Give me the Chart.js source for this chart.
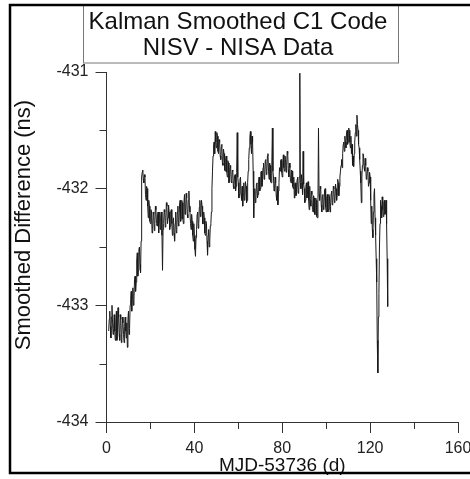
<!DOCTYPE html>
<html lang="en">
<head>
    <title>Kalman Smoothed C1 Code</title>
    <script src="https://cdn.jsdelivr.net/npm/chart.js"></script>
    <style>
        body { margin: 0; background: #fff; }
    </style>
</head>
<body>
    <canvas id="kalmanChart" width="470" height="479"></canvas>

    <script>
        // MJD-53736, days
        var days = [
            1, 1.25, 1.5, 1.75, 2, 2.25, 2.5, 2.75, 3, 3.25, 3.5, 3.75, 4, 4.25, 4.5, 4.75, 5, 5.25, 5.5, 5.75,
            6, 6.25, 6.5, 6.75, 7, 7.25, 7.5, 7.75, 8, 8.25, 8.5, 8.75, 9, 9.25, 9.5, 9.75, 10, 10.25, 10.5, 10.75,
            11, 11.25, 11.5, 11.75, 12, 12.25, 12.5, 12.75, 13, 13.25, 13.5, 13.75, 14, 14.25, 14.5, 14.75, 15, 15.25, 15.5, 15.75,
            16, 16.25, 16.5, 16.75, 17, 17.25, 17.5, 17.75, 18, 18.25, 18.5, 18.75, 19, 19.25, 19.5, 19.75, 20, 20.25, 20.5, 20.75,
            21, 21.25, 21.5, 21.75, 22, 22.25, 22.5, 22.75, 23, 23.25, 23.5, 23.75, 24, 24.25, 24.5, 24.75, 25, 25.25, 25.5, 25.75,
            26, 26.25, 26.5, 26.75, 27, 27.25, 27.5, 27.75, 28, 28.25, 28.5, 28.75, 29, 29.25, 29.5, 29.75, 30, 30.25, 30.5, 30.75,
            31, 31.25, 31.5, 31.75, 32, 32.25, 32.5, 32.75, 33, 33.25, 33.5, 33.75, 34, 34.25, 34.5, 34.75, 35, 35.25, 35.5, 35.75,
            36, 36.25, 36.5, 36.75, 37, 37.25, 37.5, 37.75, 38, 38.25, 38.5, 38.75, 39, 39.25, 39.5, 39.75, 40, 40.25, 40.5, 40.75,
            41, 41.25, 41.5, 41.75, 42, 42.25, 42.5, 42.75, 43, 43.25, 43.5, 43.75, 44, 44.25, 44.5, 44.75, 45, 45.25, 45.5, 45.75,
            46, 46.25, 46.5, 46.75, 47, 47.25, 47.5, 47.75, 48, 48.25, 48.5, 48.75, 49, 49.25, 49.5, 49.75, 50, 50.25, 50.5, 50.75,
            51, 51.25, 51.5, 51.75, 52, 52.25, 52.5, 52.75, 53, 53.25, 53.5, 53.75, 54, 54.25, 54.5, 54.75, 55, 55.25, 55.5, 55.75,
            56, 56.25, 56.5, 56.75, 57, 57.25, 57.5, 57.75, 58, 58.25, 58.5, 58.75, 59, 59.25, 59.5, 59.75, 60, 60.25, 60.5, 60.75,
            61, 61.25, 61.5, 61.75, 62, 62.25, 62.5, 62.75, 63, 63.25, 63.5, 63.75, 64, 64.25, 64.5, 64.75, 65, 65.25, 65.5, 65.75,
            66, 66.25, 66.5, 66.75, 67, 67.25, 67.5, 67.75, 68, 68.25, 68.5, 68.75, 69, 69.25, 69.5, 69.75, 70, 70.25, 70.5, 70.75,
            71, 71.25, 71.5, 71.75, 72, 72.25, 72.5, 72.75, 73, 73.25, 73.5, 73.75, 74, 74.25, 74.5, 74.75, 75, 75.25, 75.5, 75.75,
            76, 76.25, 76.5, 76.75, 77, 77.25, 77.5, 77.75, 78, 78.25, 78.5, 78.75, 79, 79.25, 79.5, 79.75, 80, 80.25, 80.5, 80.75,
            81, 81.25, 81.5, 81.75, 82, 82.25, 82.5, 82.75, 83, 83.25, 83.5, 83.75, 84, 84.25, 84.5, 84.75, 85, 85.25, 85.5, 85.75,
            86, 86.25, 86.5, 86.75, 87, 87.25, 87.5, 87.75, 88, 88.25, 88.5, 88.75, 89, 89.25, 89.5, 89.75, 90, 90.25, 90.5, 90.75,
            91, 91.25, 91.5, 91.75, 92, 92.25, 92.5, 92.75, 93, 93.25, 93.5, 93.75, 94, 94.25, 94.5, 94.75, 95, 95.25, 95.5, 95.75,
            96, 96.25, 96.5, 96.75, 97, 97.25, 97.5, 97.75, 98, 98.25, 98.5, 98.75, 99, 99.25, 99.5, 99.75, 100, 100.25, 100.5, 100.75,
            101, 101.25, 101.5, 101.75, 102, 102.25, 102.5, 102.75, 103, 103.25, 103.5, 103.75, 104, 104.25, 104.5, 104.75, 105, 105.25, 105.5, 105.75,
            106, 106.25, 106.5, 106.75, 107, 107.25, 107.5, 107.75, 108, 108.25, 108.5, 108.75, 109, 109.25, 109.5, 109.75, 110, 110.25, 110.5, 110.75,
            111, 111.25, 111.5, 111.75, 112, 112.25, 112.5, 112.75, 113, 113.25, 113.5, 113.75, 114, 114.25, 114.5, 114.75, 115, 115.25, 115.5, 115.75,
            116, 116.25, 116.5, 116.75, 117, 117.25, 117.5, 117.75, 118, 118.25, 118.5, 118.75, 119, 119.25, 119.5, 119.75, 120, 120.25, 120.5, 120.75,
            121, 121.25, 121.5, 121.75, 122, 122.25, 122.5, 122.75, 123, 123.25, 123.5, 123.75, 124, 124.25, 124.5, 124.75, 125, 125.25, 125.5, 125.75,
            126, 126.25, 126.5, 126.75, 127, 127.25, 127.5, 127.75, 128
        ];

        // smoothed NISV - NISA difference, ns
        var smoothedDiff = [
            -433.22, -433.12, -433.05, -433.18, -433.28, -433.1, -433.0, -433.15, -433.25, -433.2, -433.08, -433.22, -433.3, -433.15, -433.05, -433.3, -433.22, -433.02, -433.1, -433.25,
            -433.3, -433.08, -433.12, -433.32, -433.27, -433.1, -433.15, -433.25, -433.32, -433.18, -433.1, -433.22, -433.28, -433.15, -433.36, -433.12, -433.05, -433.25, -433.2, -433.0,
            -432.95, -432.88, -433.05, -432.92, -432.85, -433.0, -432.95, -432.78, -432.75, -432.88, -432.8, -432.62, -432.55, -432.75, -432.7, -432.52, -432.5, -432.65, -432.72, -432.45,
            -431.9, -431.86, -431.84, -431.92, -431.95, -431.88, -431.9, -432.05, -432.1, -431.98, -432.0, -432.15, -432.25, -432.1, -432.15, -432.28, -432.3, -432.18, -432.2, -432.38,
            -432.35, -432.2, -432.22, -432.36, -432.3, -432.15, -432.18, -432.3, -432.32, -432.22, -432.2, -432.38, -432.28, -432.2, -432.35, -432.25, -432.2, -432.4, -432.7, -432.35,
            -432.3, -432.18, -432.2, -432.33, -432.28, -432.12, -432.15, -432.3, -432.25, -432.14, -432.2, -432.35, -432.32, -432.2, -432.18, -432.3, -432.4, -432.28, -432.25, -432.38,
            -432.45, -432.3, -432.2, -432.38, -432.35, -432.2, -432.15, -432.32, -432.3, -432.14, -432.1, -432.28, -432.25, -432.1, -432.12, -432.26, -432.3, -432.12, -432.05, -432.22,
            -432.2, -432.04, -432.08, -432.22, -432.25, -432.1, -432.02, -432.15, -432.2, -432.3, -432.35, -432.22, -432.28, -432.4, -432.45, -432.3, -432.4, -432.52, -432.58, -432.42,
            -432.35, -432.22, -432.2, -432.34, -432.3, -432.16, -432.1, -432.24, -432.2, -432.1, -432.15, -432.3, -432.3, -432.2, -432.25, -432.38, -432.4, -432.28, -432.3, -432.45,
            -432.57, -432.4, -432.35, -432.5, -432.45, -432.32, -432.3, -432.2, -432.0, -431.85, -431.72, -431.62, -431.6, -431.7, -431.51, -431.6, -431.65, -431.52, -431.55, -431.68,
            -431.7, -431.58, -431.6, -431.72, -431.75, -431.64, -431.62, -431.78, -431.8, -431.66, -431.7, -431.84, -431.85, -431.74, -431.72, -431.86, -431.9, -431.76, -431.78, -431.95,
            -431.92, -431.82, -431.8, -431.94, -431.95, -431.84, -431.85, -431.98, -432.0, -431.9, -431.88, -432.02, -431.98, -431.86, -431.52, -431.9, -431.95, -432.08, -432.05, -431.92,
            -431.9, -432.05, -432.1, -431.98, -432.15, -432.05, -431.95, -432.1, -432.08, -431.94, -431.98, -432.12, -432.1, -431.95, -431.85, -431.75, -431.65, -431.56, -431.51, -431.62,
            -431.7, -431.55, -431.6, -431.85, -432.25, -432.05, -432.0, -432.12, -432.1, -431.96, -431.95, -432.08, -432.05, -431.92, -431.9, -432.02, -432.0, -431.86, -431.85, -431.98,
            -431.95, -431.82, -431.78, -431.92, -431.9, -431.76, -431.75, -431.88, -431.85, -431.72, -431.7, -431.85, -431.92, -431.78, -431.8, -431.94, -431.95, -431.8, -431.48, -431.85,
            -431.9, -432.02, -432.0, -431.9, -431.95, -432.06, -432.1, -431.98, -432.14, -432.02, -431.95, -431.82, -431.85, -431.76, -431.75, -431.86, -431.9, -431.78, -431.71, -431.82,
            -431.85, -431.72, -431.75, -431.86, -431.8, -431.68, -431.7, -431.84, -431.9, -431.78, -431.82, -431.94, -431.95, -431.84, -431.85, -431.98, -432.0, -431.9, -432.08, -431.96,
            -431.95, -432.06, -432.05, -431.92, -431.9, -432.04, -432.02, -431.9, -431.01, -431.95, -432.0, -431.88, -431.95, -432.05, -431.68, -431.96, -432.0, -432.12, -432.1, -431.98,
            -431.95, -432.08, -432.05, -431.94, -432.1, -432.18, -431.98, -432.1, -432.15, -432.02, -432.05, -432.18, -432.2, -432.06, -432.08, -432.22, -432.22, -432.08, -432.1, -432.24,
            -432.25, -432.12, -431.48, -432.05, -432.1, -431.98, -432.0, -432.14, -432.2, -432.06, -432.05, -432.18, -432.15, -432.02, -432.0, -432.16, -432.2, -432.08, -432.05, -432.2,
            -432.18, -432.05, -432.08, -432.2, -432.15, -432.04, -432.02, -432.14, -432.12, -431.98, -432.0, -432.12, -432.1, -431.96, -432.0, -432.1, -432.05, -431.92, -431.95, -432.06,
            -431.98, -431.9, -431.85, -431.8, -431.75, -431.82, -431.7, -431.62, -431.6, -431.68, -431.55, -431.6, -431.65, -431.52, -431.5, -431.62, -431.6, -431.48, -431.5, -431.6,
            -431.65, -431.55, -431.7, -431.62, -431.8, -431.72, -431.81, -431.7, -431.6, -431.52, -431.45, -431.55, -431.37, -431.45, -431.5, -431.62, -431.65, -431.75, -431.85, -431.95,
            -432.12, -431.9, -431.8, -431.7, -431.72, -431.82, -431.85, -431.74, -431.8, -431.92, -431.9, -431.82, -431.85, -431.98, -431.95, -431.86, -431.9, -432.1, -432.3, -432.15,
            -432.35, -432.42, -432.2, -432.05, -432.0, -432.25, -432.4, -432.6, -432.8, -433.3, -433.58, -433.1, -432.9, -432.5, -432.3, -432.1, -432.15, -432.25, -432.07, -432.18,
            -432.24, -432.12, -432.1, -432.22, -432.2, -432.1, -432.3, -432.6, -433.01
        ];

        var xMinorTicks = [20, 60, 100, 140];
        var yMinorTicks = [-431.5, -432.5, -433.5];
        var yTitle = 'Smoothed Difference (ns)';

        var points = [];
        for (var i = 0; i < days.length; i++) {
            points.push({ x: days[i], y: smoothedDiff[i] });
        }

        Chart.defaults.font.family = "'Liberation Sans', Arial, sans-serif";
        Chart.defaults.color = '#222';

        // minor ticks, y title, title box and the outer frame
        var framePlugin = {
            id: 'framePlugin',
            afterDraw: function(chart) {
                var ctx = chart.ctx;
                var area = chart.chartArea;
                var sx = chart.scales.x;
                var sy = chart.scales.y;
                ctx.save();
                ctx.strokeStyle = '#333';
                ctx.lineWidth = 1;
                ctx.beginPath();
                xMinorTicks.forEach(function(v) {
                    var px = Math.round(sx.getPixelForValue(v)) + 0.5;
                    ctx.moveTo(px, area.bottom);
                    ctx.lineTo(px, area.bottom + 7);
                });
                yMinorTicks.forEach(function(v) {
                    var py = Math.round(sy.getPixelForValue(v)) + 0.5;
                    ctx.moveTo(area.left, py);
                    ctx.lineTo(area.left - 7, py);
                });
                ctx.stroke();

                // y axis title sits a bit above the axis middle in the original
                ctx.translate(24, 225);
                ctx.rotate(-Math.PI / 2);
                ctx.fillStyle = '#111';
                ctx.font = "22px 'Liberation Sans', Arial, sans-serif";
                ctx.textAlign = 'center';
                ctx.textBaseline = 'middle';
                ctx.fillText(yTitle, 0, 0);
                ctx.setTransform(1, 0, 0, 1, 0, 0);

                ctx.strokeStyle = '#777';
                ctx.lineWidth = 1;
                ctx.strokeRect(83.5, 5, 315, 58);

                ctx.strokeStyle = '#000';
                ctx.lineWidth = 2.5;
                ctx.strokeRect(10, 5, 500, 468);
                ctx.restore();
            }
        };

        var ctx = document.getElementById('kalmanChart').getContext('2d');
        var myChart = new Chart(ctx, {
            type: 'line',
            data: {
                datasets: [{
                    label: 'NISV - NISA',
                    data: points,
                    borderColor: '#1a1a1a',
                    borderWidth: 1,
                    pointRadius: 0,
                    tension: 0
                }]
            },
            plugins: [framePlugin],
            options: {
                responsive: false,
                animation: false,
                layout: { padding: { top: 0, right: 0, bottom: 0, left: 6 } },
                plugins: {
                    legend: { display: false },
                    tooltip: { enabled: false },
                    title: {
                        display: true,
                        text: ['Kalman Smoothed C1 Code', 'NISV - NISA Data'],
                        color: '#111',
                        font: { size: 24, weight: 'normal', lineHeight: 26 / 24 },
                        padding: { top: 9, bottom: 11 }
                    }
                },
                scales: {
                    x: {
                        type: 'linear',
                        min: 0,
                        max: 160,
                        ticks: { stepSize: 40, padding: 6, maxRotation: 0, font: { size: 16 } },
                        grid: { drawOnChartArea: false, tickLength: 11, color: '#333' },
                        border: { display: true, color: '#333', width: 1 },
                        title: {
                            display: true,
                            text: 'MJD-53736 (d)',
                            color: '#111',
                            font: { size: 19, lineHeight: 1 },
                            padding: { top: 0, bottom: 4 }
                        },
                        afterFit: function(scale) {
                            scale.height = 57;
                            scale.paddingRight = 12;
                        }
                    },
                    y: {
                        min: -434,
                        max: -431,
                        ticks: { stepSize: 1, padding: 7, font: { size: 16 } },
                        grid: { drawOnChartArea: false, tickLength: 11, color: '#333' },
                        border: { display: true, color: '#333', width: 1 },
                        afterFit: function(scale) {
                            scale.width = 100.5;
                        }
                    }
                }
            }
        });
    </script>
</body>
</html>
